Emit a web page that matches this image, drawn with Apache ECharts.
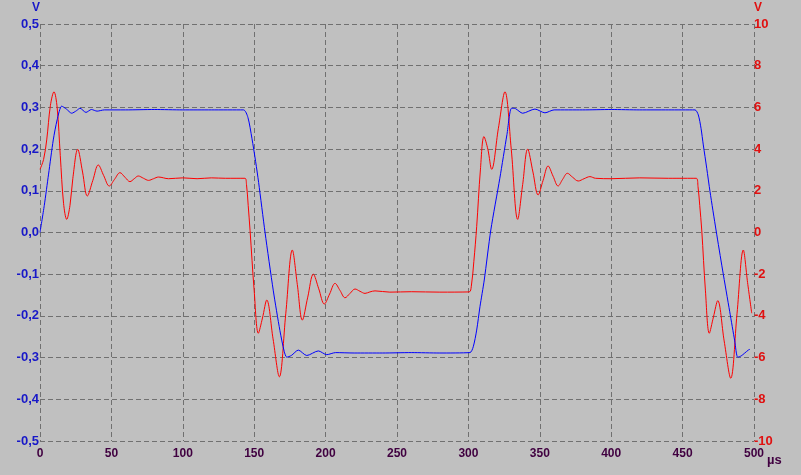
<!DOCTYPE html>
<html>
<head>
<meta charset="utf-8">
<script src="https://cdn.jsdelivr.net/npm/echarts@6/dist/echarts.min.js"></script>
<style>
html,body{margin:0;padding:0;background:#c0c0c0;}
#c{width:801px;height:475px;}
</style>
</head>
<body>
<div id="c"></div>
<script>
// time in µs
const blueTime = [0, 3, 6, 9.3, 12, 15.2, 18.5, 22.2, 25.5, 28, 32.2, 36, 40, 45, 60, 80, 100, 120, 142.5, 145.6, 148.4, 151, 153.1, 157.6, 163.4, 168, 171, 172.8, 176, 180.9, 186.8, 194.9, 200.8, 207, 220, 240, 260, 280, 301.1, 303.4, 305.8, 308.1, 311.1, 315.7, 322, 327, 330.2, 333, 338, 346.6, 353.6, 360, 380, 400, 420, 440, 458.7, 461, 462.9, 464.5, 466.9, 469.2, 473.4, 478, 483, 486.5, 488.6, 491, 496, 497.2];
const blueVolts = [0.0, 0.065, 0.14, 0.222, 0.27, 0.303, 0.296, 0.286, 0.292, 0.298, 0.288, 0.295, 0.291, 0.294, 0.294, 0.295, 0.294, 0.294, 0.294, 0.276, 0.226, 0.17, 0.12, 0.0, -0.14, -0.235, -0.285, -0.299, -0.295, -0.282, -0.295, -0.284, -0.293, -0.288, -0.289, -0.289, -0.288, -0.289, -0.288, -0.274, -0.234, -0.178, -0.114, 0.006, 0.13, 0.235, 0.298, 0.297, 0.286, 0.296, 0.287, 0.294, 0.294, 0.295, 0.294, 0.294, 0.294, 0.282, 0.25, 0.21, 0.154, 0.098, 0.006, -0.09, -0.19, -0.26, -0.299, -0.296, -0.282, -0.28];

const redTime = [0, 2.5, 4.7, 7.3, 9.8, 12, 14.2, 16.5, 18.7, 21, 23, 26.4, 29.8, 33.1, 37, 40.8, 44.6, 48.5, 52.2, 56, 59.5, 63, 66, 68.8, 72.5, 76, 79.5, 83, 90, 100, 110, 120, 130, 143.5, 144.6, 145.8, 147.1, 150, 152.9, 155.8, 158.8, 163.2, 167.6, 172.1, 176.7, 180.2, 183.7, 187.5, 191.4, 195.2, 199.1, 202.8, 206.6, 210.1, 213.6, 217.1, 220.6, 224.1, 227.6, 231, 234.6, 245, 260, 280, 300.5, 302, 303.8, 305.8, 308.4, 310.9, 313.6, 316.3, 321, 325.6, 330, 334.5, 338, 341.5, 345.2, 348.8, 352.3, 355.8, 359.3, 362.8, 366, 369.3, 373, 376.9, 381, 385.1, 389, 400, 420, 440, 459.6, 460.8, 462, 463.4, 466, 468.7, 471.6, 474.6, 479.1, 483.7, 488.1, 492.5, 495.5, 498.4];
const redVolts = [3.03, 3.5, 4.44, 6.1, 6.75, 6.0, 3.7, 1.4, 0.63, 1.3, 2.6, 3.99, 2.9, 1.75, 2.5, 3.24, 2.73, 2.23, 2.55, 2.87, 2.65, 2.44, 2.58, 2.71, 2.6, 2.5, 2.58, 2.66, 2.58, 2.62, 2.58, 2.62, 2.6, 2.6, 2.3, 1.3, 0.1, -2.8, -4.83, -4.1, -3.24, -5.1, -6.92, -3.9, -0.84, -2.5, -4.2, -3.1, -2.0, -2.7, -3.43, -2.95, -2.44, -2.78, -3.13, -2.92, -2.71, -2.82, -2.92, -2.85, -2.8, -2.86, -2.84, -2.86, -2.85, -2.6, -1.4, 0.28, 3.0, 4.6, 4.0, 3.03, 5.0, 6.75, 4.0, 0.63, 2.3, 4.0, 2.9, 1.8, 2.5, 3.19, 2.7, 2.23, 2.55, 2.84, 2.65, 2.47, 2.58, 2.68, 2.6, 2.58, 2.62, 2.6, 2.6, 2.2, 1.3, 0.12, -2.8, -4.83, -4.05, -3.27, -5.2, -6.99, -3.9, -0.84, -2.4, -3.87];

const timeAxis = {min: 0, max: 500, step: 50, unit: 'µs'};
const leftAxis = {min: -0.5, max: 0.5, step: 0.1, unit: 'V'};
const rightAxis = {min: -10, max: 10, step: 2, unit: 'V'};

const zip = (a, b) => a.map((t, i) => [t, b[i]]);

const FONT = 'Liberation Sans';
const gridLine = {show: true, lineStyle: {color: '#707070', type: [5, 3], width: 1}};

const chart = echarts.init(document.getElementById('c'), null, {renderer: 'canvas'});
chart.setOption({
  backgroundColor: '#c0c0c0',
  animation: false,
  grid: {left: 40, right: 47, top: 24, bottom: 34, containLabel: false},
  graphic: [{
    type: 'text', left: 767, top: 454,
    style: {text: timeAxis.unit, fill: '#400040', font: 'bold 13px "Liberation Sans"'}
  }],
  xAxis: {
    type: 'value', min: timeAxis.min, max: timeAxis.max, interval: timeAxis.step,
    axisLine: {show: false, onZero: false}, axisTick: {show: false},
    axisLabel: {color: '#400040', fontFamily: FONT, fontWeight: 'bold', fontSize: 12, margin: 7},
    splitLine: gridLine
  },
  yAxis: [
    {
      type: 'value', min: leftAxis.min, max: leftAxis.max, interval: leftAxis.step, position: 'left',
      name: leftAxis.unit, nameLocation: 'end', nameGap: 16,
      nameTextStyle: {color: '#1818c8', fontFamily: FONT, fontWeight: 'bold', fontSize: 12, align: 'right', verticalAlign: 'middle'},
      axisLine: {show: false, onZero: false}, axisTick: {show: false},
      axisLabel: {color: '#1818c8', fontFamily: FONT, fontWeight: 'bold', fontSize: 13, margin: 1,
        padding: [3, 0, 0, 0],
        formatter: v => v.toFixed(1).replace('.', ',')},
      splitLine: gridLine
    },
    {
      type: 'value', min: rightAxis.min, max: rightAxis.max, interval: rightAxis.step, position: 'right',
      name: rightAxis.unit, nameLocation: 'end', nameGap: 16,
      nameTextStyle: {color: '#e01010', fontFamily: FONT, fontWeight: 'bold', fontSize: 12, align: 'left', verticalAlign: 'middle'},
      axisLine: {show: false, onZero: false}, axisTick: {show: false},
      axisLabel: {color: '#e01010', fontFamily: FONT, fontWeight: 'bold', fontSize: 13, margin: 0,
        padding: [3, 0, 0, 0]},
      splitLine: {show: false}
    }
  ],
  series: [
    {
      type: 'line', yAxisIndex: 1, data: zip(redTime, redVolts), showSymbol: false, smooth: 0.35,
      lineStyle: {color: '#ff0000', width: 1}, z: 2
    },
    {
      type: 'line', yAxisIndex: 0, data: zip(blueTime, blueVolts), showSymbol: false, smooth: 0.25,
      lineStyle: {color: '#0000ff', width: 1}, z: 3
    }
  ]
});
</script>
</body>
</html>
